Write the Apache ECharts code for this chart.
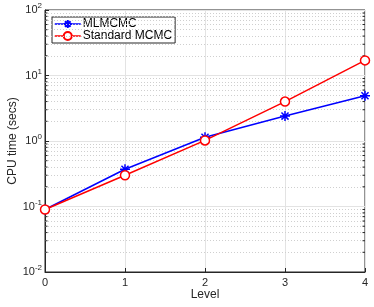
<!DOCTYPE html>
<html><head><meta charset="utf-8">
<script src="https://cdn.jsdelivr.net/npm/echarts@6/dist/echarts.min.js"></script>
<style>html,body{margin:0;padding:0;background:#fff}#c{width:374px;height:307px}</style>
</head><body><div id="c"></div>
<script>
const levels = [0, 1, 2, 3, 4];
const mlmcmc = [0.09, 0.37, 1.14, 2.4, 4.9];
const standard = [0.09, 0.30, 1.02, 4.0, 17.0];
const seriesNames = ['MLMCMC', 'Standard MCMC'];
const minorMultipliers = [2, 3, 4, 5, 6, 7, 8, 9];
const decades = [0.01, 0.1, 1, 10];
const minorValues = [];
decades.forEach(d => minorMultipliers.forEach(m => minorValues.push(+(d * m).toPrecision(3))));

const font = 'Liberation Sans, Arial, sans-serif';
const asterisk = 'path://M0,-10L0,10M-10,0L10,0M-7.07,-7.07L7.07,7.07M-7.07,7.07L7.07,-7.07';
const chart = echarts.init(document.getElementById('c'));
chart.setOption({
  animation: false,
  grid: {left: 45, right: 9, top: 10, bottom: 35, containLabel: false, outerBoundsMode: 'none',
         show: true, borderColor: '#262626', borderWidth: 1},
  xAxis: {
    type: 'value', min: 0, max: 4, interval: 1,
    name: 'Level', nameLocation: 'middle', nameGap: 17, nameMoveOverlap: false,
    nameTextStyle: {fontFamily: font, fontSize: 12, color: '#262626'},
    axisLine: {lineStyle: {color: '#262626'}},
    axisTick: {inside: true, length: 4, lineStyle: {color: '#262626'}},
    axisLabel: {fontFamily: font, fontSize: 11, color: '#262626', margin: 5},
    splitLine: {show: true, lineStyle: {color: '#e3e3e3', width: 1}}
  },
  yAxis: {
    type: 'log', logBase: 10, min: 0.01, max: 100,
    name: 'CPU time (secs)', nameLocation: 'middle', nameGap: 26, nameMoveOverlap: false,
    nameTextStyle: {fontFamily: font, fontSize: 12, color: '#262626'},
    axisLine: {lineStyle: {color: '#262626'}},
    axisTick: {inside: true, length: 4, lineStyle: {color: '#262626'}},
    axisLabel: {
      fontFamily: font, fontSize: 11, color: '#262626', margin: 3,
      formatter: v => '10{sup|' + Math.round(Math.log10(v)) + '}',
      rich: {sup: {fontSize: 8, fontFamily: font, color: '#262626', padding: [0, 0, 8, 0]}}
    },
    splitLine: {show: true, lineStyle: {color: '#e3e3e3', width: 1}}
  },
  legend: {
    left: 52, top: 17, orient: 'vertical', itemGap: 0, itemWidth: 26, itemHeight: 10,
    padding: [1, 3, 1, 2],
    borderColor: '#262626', borderWidth: 1, backgroundColor: '#fff',
    lineStyle: {type: 'solid', width: 1.5},
    textStyle: {fontFamily: font, fontSize: 12, color: '#000', lineHeight: 12, padding: [0, 0, 0, -3]},
    data: seriesNames
  },
  series: [
    {
      type: 'line', name: 'minor-grid', silent: true, data: [], z: 1,
      markLine: {
        silent: true, symbol: 'none', label: {show: false},
        lineStyle: {color: '#cfcfcf', type: [1, 2], width: 1},
        data: minorValues.map(v => ({yAxis: v}))
      }
    },
    {
      type: 'custom', name: 'minor-ticks', silent: true, z: 5,
      data: minorValues.map(v => [0, v]),
      renderItem: (params, api) => {
        const p = api.coord([0, api.value(1)]);
        const q = api.coord([4, api.value(1)]);
        return {type: 'group', children: [
          {type: 'line', shape: {x1: p[0], y1: p[1], x2: p[0] + 2.5, y2: p[1]}, style: {stroke: '#262626', lineWidth: 1}},
          {type: 'line', shape: {x1: q[0], y1: q[1], x2: q[0] - 2.5, y2: q[1]}, style: {stroke: '#262626', lineWidth: 1}}
        ]};
      }
    },
    {
      type: 'line', name: seriesNames[0], z: 10,
      data: levels.map((x, i) => [x, mlmcmc[i]]),
      symbol: asterisk, symbolSize: 10, showAllSymbol: true,
      lineStyle: {color: '#0000ff', width: 1.5, type: 'solid'},
      itemStyle: {color: '#0000ff', borderColor: '#0000ff', borderWidth: 1.5}
    },
    {
      type: 'line', name: seriesNames[1], z: 11,
      data: levels.map((x, i) => [x, standard[i]]),
      symbol: 'circle', symbolSize: 9, showAllSymbol: true,
      lineStyle: {color: '#ff0000', width: 1.5, type: 'solid'},
      itemStyle: {color: '#ffffff', borderColor: '#ff0000', borderWidth: 1.5}
    }
  ]
});
</script></body></html>
